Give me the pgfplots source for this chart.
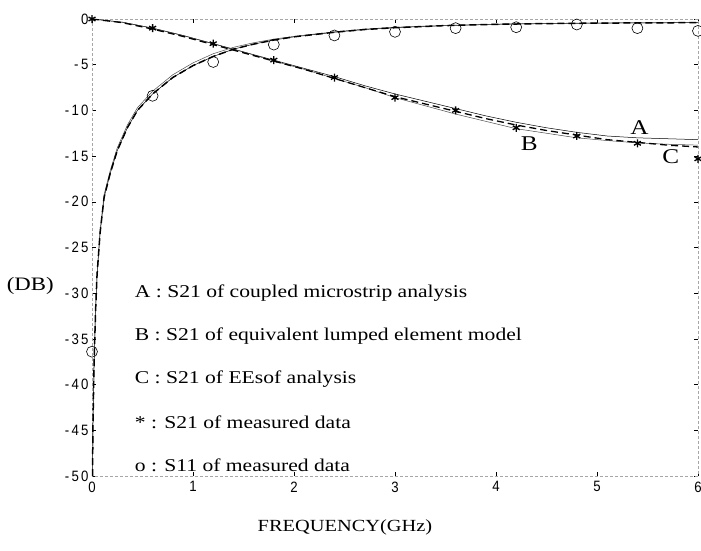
\documentclass[border=0pt]{standalone}
\usepackage{pgfplots}
\pgfplotsset{compat=1.18}
\usepackage{fontspec}
\setmainfont{Liberation Serif}
\setsansfont{Liberation Sans}
\newfontfamily\wideserif[FakeStretch=1.2]{Liberation Serif}
\newfontfamily\tickfont[FakeStretch=0.88, LetterSpace=14]{Liberation Sans}

% measured points
\pgfplotstableread{
f s21
0.0 0.0
0.6 -1.0
1.2 -2.7
1.8 -4.5
2.4 -6.4
3.0 -8.6
3.6 -10.0
4.2 -11.9
4.8 -12.8
5.4 -13.6
6.0 -15.3
}\measSTwoOne
\pgfplotstableread{
f s11
0.0 -36.4
0.6 -8.4
1.2 -4.7
1.8 -2.8
2.4 -1.8
3.0 -1.4
3.6 -1.0
4.2 -0.9
4.8 -0.6
5.4 -1.0
6.0 -1.3
}\measSOneOne

\begin{document}
\begin{tikzpicture}
\useasboundingbox (0pt,0pt) rectangle (701pt,550pt);
\begin{axis}[
    at={(92pt,74pt)}, anchor=south west,
    scale only axis,
    width=606pt, height=457pt,
    xmin=0, xmax=6, ymin=-50, ymax=0,
    clip=false,
    axis line style={gray!70, densely dashed, line width=0.6pt},
    tick align=inside,
    major tick length=4pt,
    tick style={black, line width=0.5pt},
    xtick={0,1,2,3,4,5,6},
    xticklabels={0,1,2,3,4,5,6},
    ytick={-50,-45,-40,-35,-30,-25,-20,-15,-10,-5,0},
    yticklabels={{-\,50},{-\,45},{-\,40},{-\,35},{-\,30},{-\,25},{-\,20},{-\,15},{-\,10},{-\,5},0},
    ticklabel style={font=\tickfont\fontsize{15}{17}\selectfont},
    xticklabel style={yshift=-2pt},
    xlabel={FREQUENCY(GHz)},
    xlabel style={font=\fontsize{17}{19}\wideserif\selectfont, at={(axis description cs:0.4175,-0.112)}, anchor=center},
]
% S21 curves
\addplot[black, line width=0.5pt] coordinates {
(0,0) (0.3,-0.35) (0.6,-1.0) (0.9,-1.8) (1.2,-2.7) (1.5,-3.6) (1.8,-4.5) (2.1,-5.4)
(2.4,-6.3) (2.7,-7.3) (3.0,-8.2) (3.3,-9.0) (3.6,-9.8) (3.9,-10.6) (4.2,-11.3)
(4.5,-11.9) (4.8,-12.4) (5.1,-12.8) (5.4,-13.0) (5.7,-13.1) (6.0,-13.2)};
\addplot[black!70, line width=0.5pt] coordinates {
(0,0) (0.3,-0.35) (0.6,-1.0) (0.9,-1.8) (1.2,-2.7) (1.5,-3.6) (1.8,-4.6) (2.1,-5.5)
(2.4,-6.5) (2.7,-7.5) (3.0,-8.6) (3.3,-9.5) (3.6,-10.4) (3.9,-11.2) (4.2,-12.0)
(4.5,-12.5) (4.8,-13.0) (5.1,-13.3) (5.4,-13.55) (5.7,-13.7) (6.0,-13.8)};
\addplot[black, line width=1.3pt, dash pattern=on 7pt off 4pt] coordinates {
(0,0) (0.3,-0.4) (0.6,-1.1) (0.9,-1.9) (1.2,-2.8) (1.5,-3.7) (1.8,-4.6) (2.1,-5.5)
(2.4,-6.5) (2.7,-7.5) (3.0,-8.5) (3.3,-9.3) (3.6,-10.1) (3.9,-10.9) (4.2,-11.6)
(4.5,-12.2) (4.8,-12.7) (5.1,-13.2) (5.4,-13.5) (5.7,-13.8) (6.0,-14.0)};
% S11 curves
\addplot[black, line width=0.5pt] coordinates {
(0.005,-50) (0.01,-44) (0.02,-38) (0.035,-32) (0.05,-28) (0.08,-23.4) (0.12,-19.5)
(0.18,-16.9) (0.25,-14.4) (0.35,-11.9) (0.45,-10.0) (0.6,-8.2) (0.8,-6.4) (1.0,-5.1)
(1.2,-4.1) (1.4,-3.3) (1.6,-2.75) (1.8,-2.3) (2.0,-1.95) (2.4,-1.45) (2.7,-1.15)
(3.0,-0.95) (3.5,-0.72) (4.0,-0.58) (4.5,-0.5) (5.0,-0.45) (5.5,-0.42) (6.0,-0.4)};
\addplot[black!70, line width=0.5pt] coordinates {
(0.005,-50) (0.01,-44) (0.02,-38) (0.035,-32) (0.05,-28) (0.08,-23.2) (0.12,-19.2)
(0.18,-16.6) (0.25,-14.1) (0.35,-11.6) (0.45,-9.7) (0.6,-7.9) (0.8,-6.1) (1.0,-4.8)
(1.2,-3.8) (1.4,-3.1) (1.6,-2.6) (1.8,-2.2) (2.0,-1.9) (2.4,-1.4) (2.7,-1.1)
(3.0,-0.9) (3.5,-0.7) (4.0,-0.56) (4.5,-0.48) (5.0,-0.44) (5.5,-0.41) (6.0,-0.4)};
\addplot[black, line width=1.5pt, dash pattern=on 7pt off 4pt] coordinates {
(0.005,-50) (0.01,-44) (0.02,-38) (0.035,-32) (0.05,-28) (0.08,-23.4) (0.12,-19.5)
(0.18,-16.9) (0.25,-14.4) (0.35,-11.9) (0.45,-10.0) (0.6,-8.2) (0.8,-6.4) (1.0,-5.1)
(1.2,-4.1) (1.4,-3.3) (1.6,-2.75) (1.8,-2.3) (2.0,-1.95) (2.4,-1.45) (2.7,-1.15)
(3.0,-0.95) (3.5,-0.72) (4.0,-0.58) (4.5,-0.5) (5.0,-0.45) (5.5,-0.42) (6.0,-0.4)};
% measured data
\addplot[only marks, mark=asterisk, mark size=4pt, mark options={line width=1.3pt}] table[x=f,y=s21] {\measSTwoOne};
\addplot[only marks, mark=o, mark size=5.5pt, mark options={line width=0.6pt, fill=none}] table[x=f,y=s11] {\measSOneOne};
% curve letters
\begin{scope}[every node/.style={font=\fontsize{21}{23}\wideserif\selectfont}]
\node at (axis cs:5.42,-11.9) {A};
\node at (axis cs:4.33,-13.6) {B};
\node at (axis cs:5.73,-15.1) {C};
\end{scope}
% explanation
\begin{scope}[every node/.style={anchor=west, font=\fontsize{18}{20}\wideserif\selectfont}]
\node at (axis cs:0.39,-30.0) {A : S21 of coupled microstrip analysis};
\node at (axis cs:0.39,-34.7) {B : S21 of equivalent lumped element model};
\node at (axis cs:0.39,-39.4) {C : S21 of EEsof analysis};
\node at (axis cs:0.39,-44.1) {* : S21 of measured data};
\node at (axis cs:0.39,-48.8) {o : S11 of measured data};
\end{scope}
\node[font=\fontsize{19}{21}\wideserif\selectfont] at (axis description cs:-0.102,0.415) {(DB)};
\end{axis}
\end{tikzpicture}
\end{document}
